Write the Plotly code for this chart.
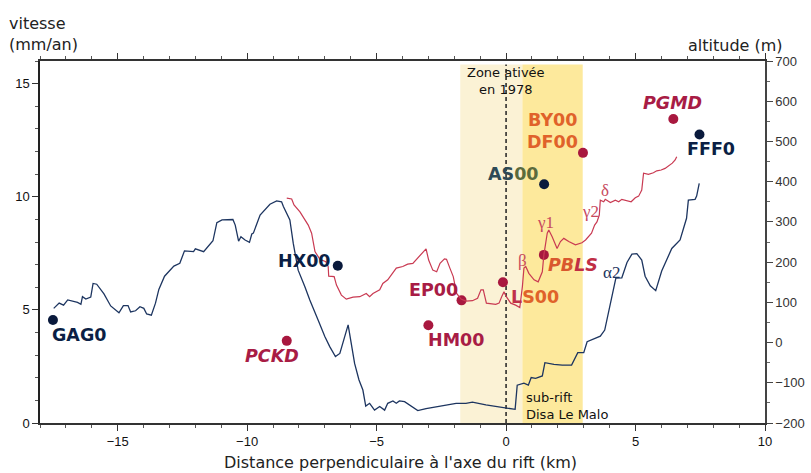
import plotly.graph_objects as go

# ---- data ----
# topographic profile alpha (navy), distance km / altitude m
alpha_x = [-17.47, -17.26, -17.09, -16.93, -16.55, -16.42, -16.36, -16.23, -16.04, -15.95, -15.81, -15.53,
           -15.27, -14.95, -14.78, -14.60, -14.50, -14.31, -14.14, -13.99, -13.88, -13.70, -13.54, -13.41,
           -13.19, -12.83, -12.60, -12.42, -12.07, -12.00, -11.68, -11.32, -11.17, -10.97, -10.55, -10.46,
           -10.33, -10.24, -10.08, -9.91, -9.82, -9.76, -9.50, -9.12, -8.86, -8.67, -8.60, -8.35, -8.22,
           -8.03, -7.77, -7.58, -7.26, -7.00, -6.81, -6.59, -6.42, -6.10, -5.85, -5.68, -5.53, -5.42, -5.27,
           -5.08, -4.88, -4.69, -4.57, -4.37, -4.24, -4.12, -3.92, -3.73, -3.41, -3.09, -2.70, -2.32, -1.93,
           -1.55, -1.30, -0.78, -0.40, 0.00, 0.35, 0.43, 0.69, 0.86, 0.97, 1.14, 1.40, 1.50, 1.65, 1.85,
           2.17, 2.53, 2.77, 3.00, 3.13, 3.45, 3.64, 3.81, 3.96, 4.15, 4.24, 4.47, 4.67, 4.86, 5.05, 5.24,
           5.37, 5.57, 5.78, 6.01, 6.40, 6.72, 6.97, 7.04, 7.30, 7.36, 7.46]
alpha_alt = [85, 98, 93, 106, 100, 95, 114, 108, 113, 147, 145, 121,
             91, 74, 92, 92, 76, 79, 89, 85, 71, 68, 98, 132,
             165, 190, 197, 228, 226, 233, 226, 253, 298, 305, 306, 292,
             252, 263, 255, 249, 270, 272, 317, 344, 352, 350, 338, 305, 247,
             180, 139, 106, 56, 15, -10, -35, -27, 44, -52, -93, -118, -158, -151,
             -168, -159, -168, -151, -145, -151, -145, -147, -155, -169, -164, -159, -155, -151,
             -151, -148, -155, -159, -162, -166, -106, -101, -106, -87, -89, -83, -50, -52, -54,
             -56, -56, -25, -25, 2, 11, 16, 31, 77, 131, 160, 161, 199, 220, 221, 205,
             165, 141, 129, 178, 234, 255, 309, 354, 356, 364, 396]

# topographic profile beta/gamma/delta (red)
beta_x = [-8.47, -8.28, -8.19, -7.96, -7.64, -7.51, -7.38, -7.19, -6.96, -6.87, -6.85, -6.64, -6.55,
          -6.36, -6.17, -5.91, -5.65, -5.40, -5.27, -5.14, -4.88, -4.76, -4.57, -4.37, -4.24, -3.99,
          -3.80, -3.60, -3.45, -3.28, -3.09, -2.99, -2.83, -2.68, -2.55, -2.38, -2.30, -2.17, -2.04,
          -1.91, -1.74, -1.55, -1.30, -1.10, -0.97, -0.88, -0.76, -0.40, -0.27, -0.17, -0.08, 0.01,
          0.18, 0.37, 0.53, 0.63, 0.69, 0.76, 0.88, 1.08, 1.24, 1.40, 1.46, 1.59, 1.65, 1.78, 1.97,
          2.10, 2.23, 2.42, 2.68, 2.93, 3.07, 3.30, 3.42, 3.51, 3.60, 3.64, 3.77, 3.83, 4.03, 4.22,
          4.35, 4.47, 4.60, 4.83, 4.99, 5.12, 5.24, 5.31, 5.50, 5.69, 5.82, 5.99, 6.14, 6.27, 6.42,
          6.53, 6.59]
beta_alt = [359, 357, 342, 325, 292, 272, 226, 207, 201, 189, 165, 164, 143,
            118, 108, 113, 114, 122, 114, 122, 131, 147, 156, 172, 185, 189,
            195, 197, 207, 218, 233, 205, 180, 176, 197, 208, 207, 185, 164,
            122, 108, 103, 104, 110, 131, 131, 98, 95, 98, 114, 126, 114,
            98, 93, 87, 139, 185, 189, 172, 156, 151, 176, 218, 272, 280, 263, 234,
            251, 259, 251, 243, 248, 255, 272, 292, 300, 317, 354, 350, 356, 348, 354,
            350, 356, 354, 350, 360, 364, 379, 421, 418, 422, 427, 429, 433, 439, 446,
            454, 462]

# GPS stations: distance km / velocity mm/an
navy_names = ["GAG0", "HX00", "AS00", "FFF0"]
navy_x = [-17.5, -6.5, 1.47, 7.47]
navy_v = [4.55, 6.95, 10.55, 12.75]

red_names = ["PCKD", "HM00", "EP00", "LS00", "PBLS", "DF00", "PGMD"]
red_x = [-8.47, -3.0, -1.72, -0.12, 1.46, 2.97, 6.46]
red_v = [3.63, 4.32, 5.42, 6.22, 7.43, 11.94, 13.44]

x_ticks = [-15, -10, -5, 0, 5, 10]
v_ticks = [0, 5, 10, 15]

zone_1978 = [-1.77, 0.63]
subrift = [0.63, 2.96]

NAVY_LINE = "#1d3560"
RED_LINE = "#c93a52"
NAVY_DOT = "#0a1a3c"
RED_DOT = "#a8183f"
NAVY_TXT = "#0b1f45"
CRIMSON = "#a81c45"
ORANGE = "#e0622a"
SANS = "DejaVu Sans, Verdana, sans-serif"
SERIF = "Liberation Serif, Times New Roman, serif"
TICK = "Liberation Sans, Arial, sans-serif"

fig = go.Figure()

fig.add_trace(go.Scatter(x=alpha_x, y=alpha_alt, yaxis="y2", mode="lines",
                         line=dict(color=NAVY_LINE, width=1.3), hoverinfo="skip", showlegend=False))
fig.add_trace(go.Scatter(x=beta_x, y=beta_alt, yaxis="y2", mode="lines",
                         line=dict(color=RED_LINE, width=1.2), hoverinfo="skip", showlegend=False))
fig.add_trace(go.Scatter(x=navy_x, y=navy_v, mode="markers", text=navy_names,
                         marker=dict(color=NAVY_DOT, size=10), showlegend=False))
fig.add_trace(go.Scatter(x=red_x, y=red_v, mode="markers", text=red_names,
                         marker=dict(color=RED_DOT, size=10), showlegend=False))

# shaded zones
fig.add_shape(type="rect", xref="x", yref="y", x0=zone_1978[0], x1=zone_1978[1], y0=0, y1=15.85,
              fillcolor="#fbf2d5", line_width=0, layer="below")
fig.add_shape(type="rect", xref="x", yref="y", x0=subrift[0], x1=subrift[1], y0=0, y1=15.85,
              fillcolor="#fde99c", line_width=0, layer="below")
fig.add_shape(type="line", xref="x", yref="y", x0=0, x1=0, y0=0, y1=15.85,
              line=dict(color="#222222", width=1.5, dash="4px,3px"), layer="below")

def lab(x, y, text, color, size=17.5, italic=False, bold=True, font=SANS, anchor="center"):
    t = text
    if bold:
        t = "<b>" + t + "</b>"
    if italic:
        t = "<i>" + t + "</i>"
    fig.add_annotation(x=x, y=y, xref="x", yref="y", text=t, showarrow=False,
                       font=dict(family=font, size=size, color=color), xanchor=anchor, yanchor="middle")

lab(-16.5, 3.88, "GAG0", NAVY_TXT)
lab(-7.79, 7.18, "HX00", NAVY_TXT)
lab(7.90, 12.11, "FFF0", NAVY_TXT)
lab(-9.04, 2.95, "PCKD", CRIMSON, italic=True)
lab(-1.94, 3.69, "HM00", CRIMSON)
lab(-2.81, 5.90, "EP00", CRIMSON)
lab(6.42, 14.14, "PGMD", CRIMSON, italic=True)
lab(1.10, 5.59, "<span style='color:#c0304a'>L</span>S00", ORANGE)
lab(2.60, 7.00, "PB<span style='color:#c02e45'>LS</span>", "#d9582e", italic=True)
lab(1.79, 13.39, "BY00", ORANGE)
lab(1.79, 12.42, "DF00", ORANGE)
lab(0.27, 11.01, "AS<span style='color:#5b6b3c'>00</span>", "#2e4a55")

# greek labels
GR = "#c84a5e"
lab(0.65, 7.18, "β", GR, size=17, bold=False, font=SERIF)
lab(1.54, 8.85, "γ1", GR, size=17, bold=False, font=SERIF)
lab(3.27, 9.34, "γ2", GR, size=17, bold=False, font=SERIF)
lab(3.81, 10.26, "δ", GR, size=17, bold=False, font=SERIF)
lab(4.08, 6.65, "α2", "#1d3560", size=17, bold=False, font=SERIF)

# zone texts
fig.add_annotation(x=0, y=15.12, xref="x", yref="y", text="Zone ativée<br>en 1978", showarrow=False,
                   font=dict(family=SANS, size=13, color="#111111"), xanchor="center", yanchor="middle",
                   align="center")
fig.add_annotation(x=0.7, y=0.75, xref="x", yref="y", text="sub-rift<br>Disa Le Malo", showarrow=False,
                   font=dict(family=SANS, size=13, color="#111111"), xanchor="left", yanchor="middle",
                   align="left")

# axis titles
fig.add_annotation(x=-0.045, y=1.135, xref="paper", yref="paper", text="vitesse<br>(mm/an)", showarrow=False,
                   font=dict(family=SANS, size=16, color="#222222"), xanchor="left", yanchor="top", align="left")
fig.add_annotation(x=1.028, y=1.01, xref="paper", yref="paper", text="altitude (m)", showarrow=False,
                   font=dict(family=SANS, size=16, color="#222222"), xanchor="right", yanchor="bottom")
fig.add_annotation(x=0.497, y=-0.11, xref="paper", yref="paper",
                   text="Distance perpendiculaire à l'axe du rift (km)", showarrow=False,
                   font=dict(family=SANS, size=16, color="#222222"), xanchor="center", yanchor="middle")

fig.update_layout(
    width=811, height=473,
    margin=dict(l=40, r=46, t=61, b=50, autoexpand=False),
    paper_bgcolor="white", plot_bgcolor="white",
    showlegend=False,
    xaxis=dict(range=[-18, 10], tickvals=x_ticks, ticks="outside", ticklen=6, tickwidth=1,
               tickcolor="#333333", showline=True, linecolor="#333333", linewidth=1.5, mirror="ticks",
               showgrid=False, zeroline=False, automargin=False,
               tickfont=dict(family=TICK, size=13, color="#111111"),
               minor=dict(dtick=1, ticks="outside", ticklen=3, tickcolor="#555555", showgrid=False)),
    yaxis=dict(range=[0, 16], tickvals=v_ticks, ticks="outside", ticklen=6, tickwidth=1,
               tickcolor="#333333", showline=True, linecolor="#222222", linewidth=1.5,
               showgrid=False, zeroline=False, automargin=False,
               tickfont=dict(family=TICK, size=13, color="#111111"),
               minor=dict(dtick=1, tick0=0, ticks="outside", ticklen=3, tickcolor="#555555", showgrid=False)),
    yaxis2=dict(range=[-200, 700], dtick=100, overlaying="y", side="right", ticks="outside",
                ticklen=6, tickwidth=1, tickcolor="#444444", showline=True, linecolor="#444444",
                linewidth=1.5, showgrid=False, zeroline=False, automargin=False,
                tickfont=dict(family=TICK, size=13, color="#333333"),
                minor=dict(dtick=50, tick0=0, ticks="outside", ticklen=3, tickcolor="#666666", showgrid=False)),
)

fig.write_html("out.html", config={"displayModeBar": False},
               post_script="document.body.style.margin='0';")
